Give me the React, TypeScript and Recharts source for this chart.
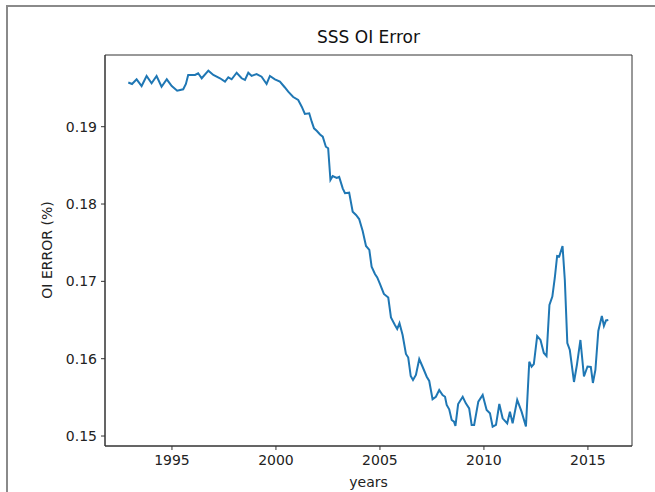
import { LineChart, Line, XAxis, YAxis, ReferenceArea } from "recharts";

// monthly-ish samples
const years = [
  1992.9, 1993.08, 1993.3, 1993.54, 1993.78, 1994.02, 1994.26, 1994.5, 1994.75, 1994.99,
  1995.25, 1995.54, 1995.67, 1995.78, 1996.11, 1996.26, 1996.43, 1996.75, 1996.99, 1997.31,
  1997.55, 1997.71, 1997.87, 1998.11, 1998.35, 1998.51, 1998.67, 1998.83, 1999.07, 1999.31,
  1999.55, 1999.71, 1999.95, 2000.19, 2000.43, 2000.59, 2000.83, 2001.07, 2001.24, 2001.39,
  2001.6, 2001.72, 2001.83, 2001.97, 2002.12, 2002.25, 2002.4, 2002.51, 2002.62, 2002.73,
  2002.92, 2003.04, 2003.21, 2003.32, 2003.52, 2003.69, 2003.85, 2004.0, 2004.17, 2004.33,
  2004.49, 2004.6, 2004.76, 2004.87, 2005.0, 2005.19, 2005.4, 2005.53, 2005.72, 2005.83,
  2005.94, 2006.09, 2006.25, 2006.36, 2006.48, 2006.59, 2006.73, 2006.89, 2007.05, 2007.25,
  2007.37, 2007.53, 2007.69, 2007.85, 2008.01, 2008.13, 2008.21, 2008.33, 2008.45, 2008.56,
  2008.63, 2008.76, 2008.98, 2009.13, 2009.29, 2009.41, 2009.53, 2009.73, 2009.94, 2010.13,
  2010.29, 2010.42, 2010.58, 2010.74, 2010.9, 2011.12, 2011.25, 2011.38, 2011.6, 2011.81,
  2012.02, 2012.18, 2012.29, 2012.4, 2012.56, 2012.72, 2012.88, 2013.01, 2013.15, 2013.29,
  2013.41, 2013.52, 2013.62, 2013.78, 2013.89, 2014.01, 2014.13, 2014.33, 2014.47, 2014.64,
  2014.81, 2014.98, 2015.14, 2015.24, 2015.36, 2015.5, 2015.67, 2015.77, 2015.87, 2015.98,
];

const oiError = [
  0.19572, 0.19552, 0.19613, 0.19526, 0.19656, 0.19561, 0.19656, 0.19517, 0.19613, 0.19526,
  0.19466, 0.19484, 0.19552, 0.19669, 0.19669, 0.19691, 0.19626, 0.19724, 0.19669, 0.19626,
  0.19582, 0.19639, 0.19613, 0.19698, 0.19626, 0.19604, 0.19698, 0.19656, 0.19681, 0.19647,
  0.19552, 0.19656, 0.19613, 0.19582, 0.19507, 0.19453, 0.19384, 0.19345, 0.19259, 0.19164,
  0.19173, 0.19065, 0.18979, 0.18944, 0.18899, 0.18871, 0.18741, 0.18721, 0.18311, 0.18362,
  0.18337, 0.1835, 0.18203, 0.18139, 0.18147, 0.17901, 0.17858, 0.17806, 0.17651, 0.17457,
  0.17406, 0.1719, 0.17095, 0.1705, 0.16966, 0.16837, 0.16791, 0.16533, 0.16436, 0.16384,
  0.16458, 0.16306, 0.16061, 0.16015, 0.15776, 0.15724, 0.15789, 0.15996, 0.15896, 0.15767,
  0.15712, 0.15475, 0.15508, 0.15595, 0.1553, 0.15508, 0.15401, 0.15345, 0.15207, 0.15185,
  0.1513, 0.15414, 0.15508, 0.15423, 0.15358, 0.15143, 0.15143, 0.15444, 0.1553, 0.15336,
  0.15294, 0.15121, 0.15143, 0.15414, 0.15229, 0.15164, 0.15315, 0.15164, 0.15466, 0.15315,
  0.15123, 0.15961, 0.15896, 0.15931, 0.16293, 0.16242, 0.16074, 0.16035, 0.16694, 0.16804,
  0.1705, 0.17328, 0.17321, 0.17457, 0.17018, 0.16203, 0.16112, 0.15699, 0.15918, 0.16242,
  0.1577, 0.15899, 0.15893, 0.15686, 0.15854, 0.16358, 0.16552, 0.16423, 0.16494, 0.165,
];

const xTicks = [1995, 2000, 2005, 2010, 2015];
const yTicks = [0.15, 0.16, 0.17, 0.18, 0.19];
const xDomain = [1991.78, 2017.12];
const yDomain = [0.14871, 0.19927];

const font = "'DejaVu Sans', sans-serif";
const axisColor = "#333";

export default function App() {
  const chartData = years.map((year, i) => ({ year, value: oiError[i] }));

  return (
    <div
      style={{
        position: "fixed",
        left: 0,
        top: 0,
        width: 655,
        height: 492,
        overflow: "hidden",
        background: "#fff",
        fontFamily: font,
      }}
    >
      {/* outer frame of the screenshot */}
      <div
        style={{
          position: "absolute",
          left: 6,
          top: 5,
          width: 700,
          height: 600,
          border: "2px solid #8a8a8a",
        }}
      />

      {/* Title */}
      <div
        style={{
          position: "absolute",
          left: 105,
          width: 527,
          top: 27,
          textAlign: "center",
          fontSize: 17,
          color: "#111",
          lineHeight: "20px",
        }}
      >
        SSS OI Error
      </div>

      <div style={{ position: "absolute", left: 0, top: 0 }}>
        <LineChart
          width={655}
          height={492}
          data={chartData}
          margin={{ top: 55, right: 23, bottom: 0, left: 0 }}
        >
          <XAxis
            type="number"
            dataKey="year"
            domain={xDomain}
            ticks={xTicks}
            allowDataOverflow
            height={46}
            tickSize={4}
            tickMargin={5}
            stroke={axisColor}
            tick={{ fontSize: 14, fill: "#222", fontFamily: font }}
          />
          <YAxis
            type="number"
            domain={yDomain}
            ticks={yTicks}
            allowDataOverflow
            width={105}
            tickSize={4}
            tickMargin={4}
            stroke={axisColor}
            tickFormatter={(v: number) => v.toFixed(2)}
            tick={{ fontSize: 14, fill: "#222", fontFamily: font }}
          />
          <ReferenceArea
            x1={xDomain[0]}
            x2={xDomain[1]}
            y1={yDomain[0]}
            y2={yDomain[1]}
            fill="none"
            stroke={axisColor}
            strokeWidth={1}
            fillOpacity={0}
          />
          <Line
            type="linear"
            dataKey="value"
            stroke="#1f77b4"
            strokeWidth={2}
            dot={false}
            isAnimationActive={false}
          />
        </LineChart>
      </div>

      {/* Axis labels */}
      <div
        style={{
          position: "absolute",
          left: 105,
          width: 527,
          top: 474,
          textAlign: "center",
          fontSize: 14,
          color: "#222",
          lineHeight: "17px",
        }}
      >
        years
      </div>
      <div
        style={{
          position: "absolute",
          left: 47,
          top: 250,
          transform: "translate(-50%, -50%) rotate(-90deg)",
          whiteSpace: "nowrap",
          fontSize: 14,
          color: "#222",
          lineHeight: "17px",
        }}
      >
        OI ERROR (%)
      </div>
    </div>
  );
}
